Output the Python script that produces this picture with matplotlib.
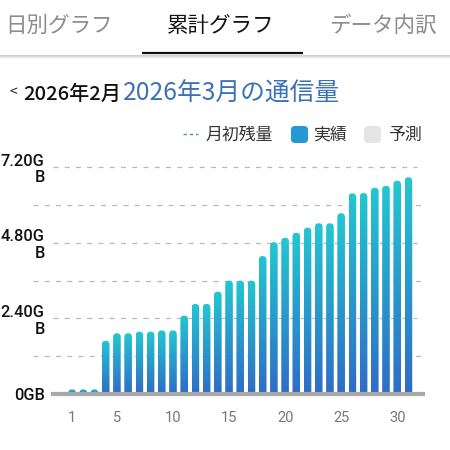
import numpy as np
import matplotlib.pyplot as plt
from matplotlib.colors import LinearSegmentedColormap
from matplotlib.patches import FancyBboxPatch

plt.rcParams['font.family'] = ['Noto Sans CJK JP', 'DejaVu Sans']

# data (GB, cumulative per day)
days = np.arange(1, 32)
usage = [0.15, 0.15, 0.15, 1.69, 1.93, 1.93, 1.98, 1.98, 2.02, 2.02,
         2.49, 2.86, 2.86, 3.25, 3.60, 3.60, 3.60, 4.38, 4.82, 4.96,
         5.12, 5.28, 5.42, 5.42, 5.74, 6.37, 6.38, 6.55, 6.61, 6.77, 6.88]
ytick_vals = [0, 2.4, 4.8, 7.2]
ytick_labels = ['0GB', '2.40G\nB', '4.80G\nB', '7.20G\nB']
minor_grid = [1.2, 3.6, 6.0]
xtick_vals = [1, 5, 10, 15, 20, 25, 30]
tabs = ['日別グラフ', '累計グラフ', 'データ内訳']

W = 450
fig = plt.figure(figsize=(4.5, 4.5), dpi=100)

# overlay for header / legend (pixel coords)
ov = fig.add_axes([0, 0, 1, 1], zorder=0)
ov.set_xlim(0, W), ov.set_ylim(W, 0)
ov.axis('off')

for txt, cx, col in zip(tabs, [59, 221, 383], ['#8c8c8c', '#111111', '#8c8c8c']):
    ov.text(cx, 26, txt, fontsize=15.5, color=col, ha='center', va='center')
ov.plot([142, 303], [53, 53], color='#111111', lw=1.6, solid_capstyle='butt')
for i, a in enumerate([0.18, 0.12, 0.07, 0.03]):
    ov.plot([0, W], [55 + i, 55 + i], color='black', alpha=a, lw=0.8)

ov.text(13, 92, '<', fontsize=10, color='#222222', ha='center', va='center')
ov.text(23, 94, '2026年2月', fontsize=14.5, color='#111111', ha='left', va='center',
        fontweight='medium')
ov.text(123, 94, '2026年3月の通信量', fontsize=17.8, color='#3a72b5', ha='left', va='center')

# legend
ov.plot([183, 198], [134, 134], color='#4a9a94', lw=1, linestyle=(0, (2.5, 2)))
ov.text(206, 135, '月初残量', fontsize=12.2, color='#333333', ha='left', va='center')
ov.add_patch(FancyBboxPatch((291, 126), 17, 17, boxstyle='round,pad=0,rounding_size=4',
                            facecolor='#2598d8', edgecolor='none'))
ov.text(313, 135, '実績', fontsize=12.2, color='#333333', ha='left', va='center')
ov.add_patch(FancyBboxPatch((364, 126), 17, 17, boxstyle='round,pad=0,rounding_size=4',
                            facecolor='#e4e4e4', edgecolor='none'))
ov.text(388, 135, '予測', fontsize=12.2, color='#333333', ha='left', va='center')

# chart axes
left_px, right_px, base_px = 53, 423, 394
ymax = 7.4
px_per_gb = 31.5
xlo, xhi = -0.7, 32.3
ax = fig.add_axes([left_px / W, 1 - base_px / W, (right_px - left_px) / W,
                   ymax * px_per_gb / W], zorder=1)
ax.patch.set_alpha(0)
for s in ax.spines.values():
    s.set_visible(False)

# grid
for y in ytick_vals[1:]:
    ax.axhline(y, xmin=0, xmax=0.985, color='#b8b8b8', lw=0.9,
               linestyle=(0, (4, 5)), zorder=0.5)
for y in minor_grid:
    ax.axhline(y, xmin=-0.054, xmax=1.0, color='#b8b8b8', lw=0.9,
               linestyle=(0, (4, 5)), zorder=0.5, clip_on=False)

# gradient bars
cmap = LinearSegmentedColormap.from_list('bar', ['#2f6cc6', '#23c7d1'])
grad = np.linspace(0, 1, 256).reshape(-1, 1)
bw = 0.68
asp = ((right_px - left_px) / (xhi - xlo)) / px_per_gb
for d, v in zip(days, usage):
    patch = FancyBboxPatch((d - bw / 2, -0.3), bw, v + 0.3,
                           boxstyle=f'round,pad=0,rounding_size={bw / 2}',
                           mutation_aspect=asp, facecolor='none', edgecolor='none')
    ax.add_patch(patch)
    im = ax.imshow(grad, cmap=cmap, origin='lower', aspect='auto',
                   extent=[d - bw / 2, d + bw / 2, 0, v], interpolation='bilinear',
                   zorder=2)
    im.set_clip_path(patch)

ax.axhline(0, color='#a8a8a8', lw=3, clip_on=False, zorder=3)

ax.set_xlim(xlo, xhi)
ax.set_ylim(0, ymax)
ax.set_yticks(ytick_vals, ytick_labels)
ax.set_xticks(xtick_vals, [str(x) for x in xtick_vals])
ax.tick_params(axis='y', length=0, pad=6, labelsize=11.8, labelcolor='#111111')
ax.tick_params(axis='x', length=0, pad=12, labelsize=10.5, labelcolor='#777777')
for t in ax.get_yticklabels():
    t.set_fontfamily(['Roboto', 'DejaVu Sans'])
    t.set_fontweight('medium')
    t.set_linespacing(1.15)
for t in ax.get_xticklabels():
    t.set_fontfamily(['Roboto', 'DejaVu Sans'])

fig.savefig('out.png', dpi=100)
